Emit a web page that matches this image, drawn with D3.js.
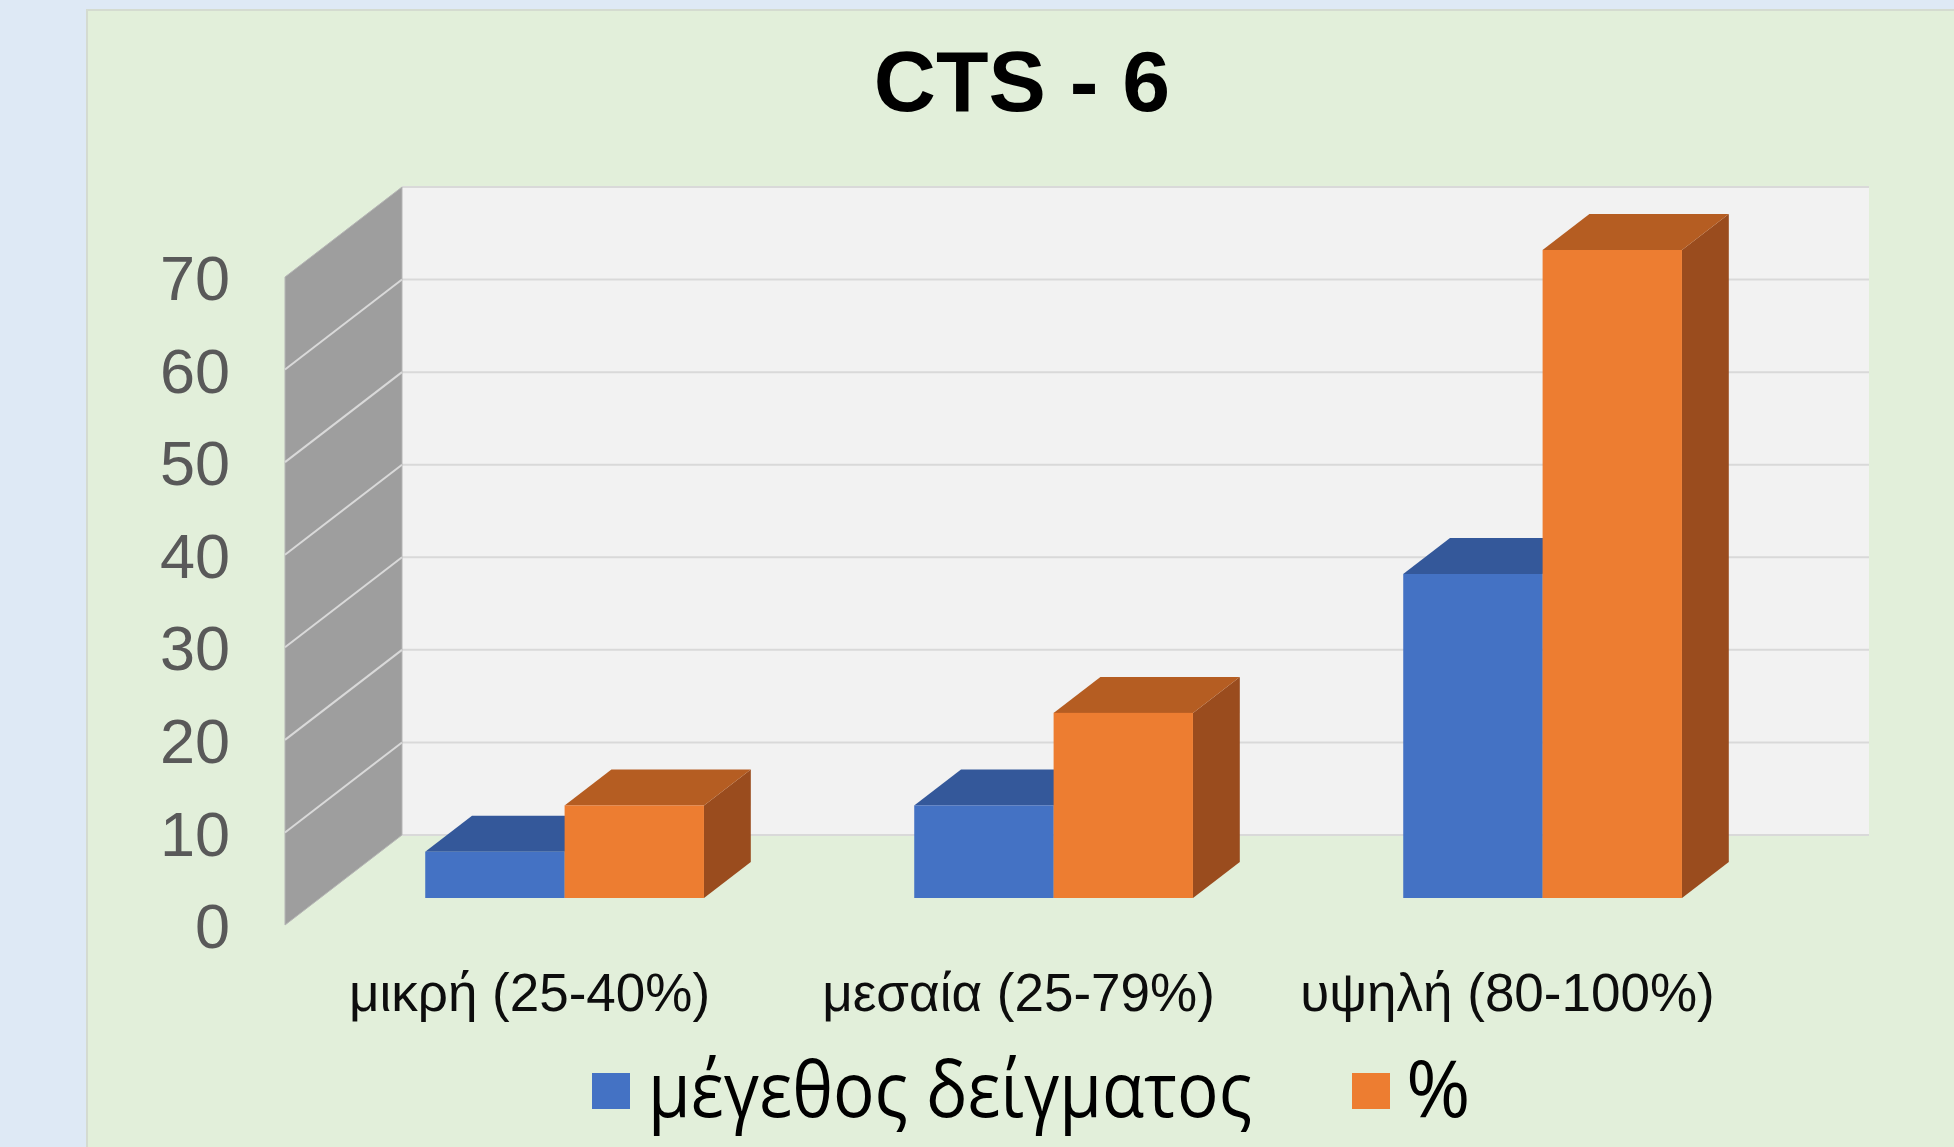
<!DOCTYPE html>
<html>
<head>
<meta charset="utf-8">
<script src="https://cdn.jsdelivr.net/npm/d3@7"></script>
<style>
  html, body { margin: 0; padding: 0; background: #dee9f5; }
  svg { display: block; }
</style>
</head>
<body>
<svg id="chart" width="1954" height="1147"></svg>
<script>
// data
const CATEGORIES = ["μικρή (25-40%)", "μεσαία (25-79%)", "υψηλή (80-100%)"];
const SERIES = ["μέγεθος δείγματος", "%"];
const SAMPLE_SIZE = [5, 10, 35];
const PERCENT = [10, 20, 70];
const Y_TICKS = [0, 10, 20, 30, 40, 50, 60, 70];
const TITLE = "CTS - 6";

const COLORS = {
    "μέγεθος δείγματος": {front: "#4472c4", top: "#34589a", side: "#2f5090"},
    "%": {front: "#ed7d31", top: "#b55d22", side: "#9a4c1e"}
};

const SVG = d3.select('#chart');

// chart panel
SVG.append('rect')
    .attr('x', 87).attr('y', 10)
    .attr('width', 1954).attr('height', 1200)
    .attr('fill', '#e2efda')
    .attr('stroke', '#d4dbd0')
    .attr('stroke-width', 2);

// front plane scales + oblique depth vector
const DX = 117, DY = -90;
const F0 = 0.3, F1 = 0.7; // bar depth inside the floor

const xFront = d3.scaleBand()
    .domain(CATEGORIES)
    .range([285, 1752])
    .paddingInner(0.43)
    .paddingOuter(0.215);

const xSeries = d3.scaleBand()
    .domain(SERIES)
    .range([0, xFront.bandwidth()]);

const yFront = d3.scaleLinear()
    .domain([0, 70])
    .range([925, 277]);

const X_LEFT = xFront.range()[0], X_RIGHT = xFront.range()[1];

// back wall
SVG.append('rect')
    .attr('x', X_LEFT + DX)
    .attr('y', yFront(70) + DY)
    .attr('width', X_RIGHT - X_LEFT)
    .attr('height', yFront(0) - yFront(70))
    .attr('fill', '#f2f2f2');

SVG.selectAll('.back-grid')
    .data(Y_TICKS)
    .enter()
    .append('line')
    .attr('class', 'back-grid')
    .attr('x1', X_LEFT + DX)
    .attr('x2', X_RIGHT + DX)
    .attr('y1', d => yFront(d) + DY)
    .attr('y2', d => yFront(d) + DY)
    .attr('stroke', '#d9d9d9')
    .attr('stroke-width', 2);

// side wall
SVG.append('polygon')
    .attr('points', [
        [X_LEFT, yFront(0)],
        [X_LEFT, yFront(70)],
        [X_LEFT + DX, yFront(70) + DY],
        [X_LEFT + DX, yFront(0) + DY]
    ].map(p => p.join(',')).join(' '))
    .attr('fill', '#9e9e9e')
    .attr('stroke', '#b5b5b5')
    .attr('stroke-width', 1);

SVG.selectAll('.side-grid')
    .data(Y_TICKS.slice(1, -1))
    .enter()
    .append('line')
    .attr('class', 'side-grid')
    .attr('x1', X_LEFT)
    .attr('x2', X_LEFT + DX)
    .attr('y1', d => yFront(d))
    .attr('y2', d => yFront(d) + DY)
    .attr('stroke', '#d9d9d9')
    .attr('stroke-width', 2);

// 3d bars
const BAR_DATA = [];
CATEGORIES.forEach((c, i) => {
    BAR_DATA.push({cat: c, series: SERIES[0], value: SAMPLE_SIZE[i]});
    BAR_DATA.push({cat: c, series: SERIES[1], value: PERCENT[i]});
});

const pts = arr => arr.map(p => p[0].toFixed(1) + ',' + p[1].toFixed(1)).join(' ');

SVG.selectAll('.bar3d')
    .data(BAR_DATA)
    .enter()
    .append('g')
    .attr('class', 'bar3d')
    .each(function (d) {
        const g = d3.select(this);
        const x0 = xFront(d.cat) + xSeries(d.series) + F0 * DX;
        const x1 = x0 + xSeries.bandwidth();
        const yb = yFront(0) + F0 * DY;
        const yt = yFront(d.value) + F0 * DY;
        const ddx = (F1 - F0) * DX, ddy = (F1 - F0) * DY;
        g.append('polygon')
            .attr('points', pts([[x1, yb], [x1 + ddx, yb + ddy], [x1 + ddx, yt + ddy], [x1, yt]]))
            .attr('fill', COLORS[d.series].side);
        g.append('polygon')
            .attr('points', pts([[x0, yt], [x0 + ddx, yt + ddy], [x1 + ddx, yt + ddy], [x1, yt]]))
            .attr('fill', COLORS[d.series].top);
        g.append('rect')
            .attr('x', x0).attr('y', yt)
            .attr('width', x1 - x0).attr('height', yb - yt)
            .attr('fill', COLORS[d.series].front);
    });

// value axis
const Y_AXIS = SVG.append('g')
    .attr('transform', `translate(${X_LEFT},0)`)
    .call(d3.axisLeft(yFront).tickValues(Y_TICKS).tickSize(0).tickPadding(55));
Y_AXIS.select('.domain').remove();
Y_AXIS.selectAll('text')
    .attr('font-family', '"Liberation Sans", Arial, sans-serif')
    .attr('font-size', 63)
    .attr('fill', '#595959')
    .attr('dy', '0.36em');

// category axis
const X_AXIS = SVG.append('g')
    .attr('transform', `translate(0,${yFront(0)})`)
    .call(d3.axisBottom(xFront).tickSize(0).tickPadding(48));
X_AXIS.select('.domain').remove();
X_AXIS.selectAll('text')
    .attr('font-family', '"Liberation Sans", Arial, sans-serif')
    .attr('font-size', 53)
    .attr('fill', '#0d0d0d');

// title
SVG.append('text')
    .attr('x', 1022).attr('y', 111)
    .attr('text-anchor', 'middle')
    .attr('font-family', '"Liberation Sans", Arial, sans-serif')
    .attr('font-weight', 'bold')
    .attr('font-size', 86)
    .attr('fill', '#000')
    .text(TITLE);

// legend
const LEGEND = [
    {name: SERIES[0], sx: 592, tx: 648, len: 604, size: 76},
    {name: SERIES[1], sx: 1352, tx: 1406, len: null, size: 78}
];
const LEG = SVG.selectAll('.legend')
    .data(LEGEND)
    .enter()
    .append('g')
    .attr('class', 'legend');
LEG.append('rect')
    .attr('x', d => d.sx).attr('y', 1073)
    .attr('width', 38).attr('height', 36)
    .attr('fill', d => COLORS[d.name].front);
LEG.append('text')
    .attr('x', d => d.tx).attr('y', 1117)
    .attr('font-family', '"Open Sans", "Noto Sans", sans-serif')
    .attr('font-size', d => d.size)
    .attr('fill', '#000')
    .each(function (d) {
        if (d.len) d3.select(this).attr('textLength', d.len).attr('lengthAdjust', 'spacingAndGlyphs');
    })
    .text(d => d.name);
</script>
</body>
</html>
